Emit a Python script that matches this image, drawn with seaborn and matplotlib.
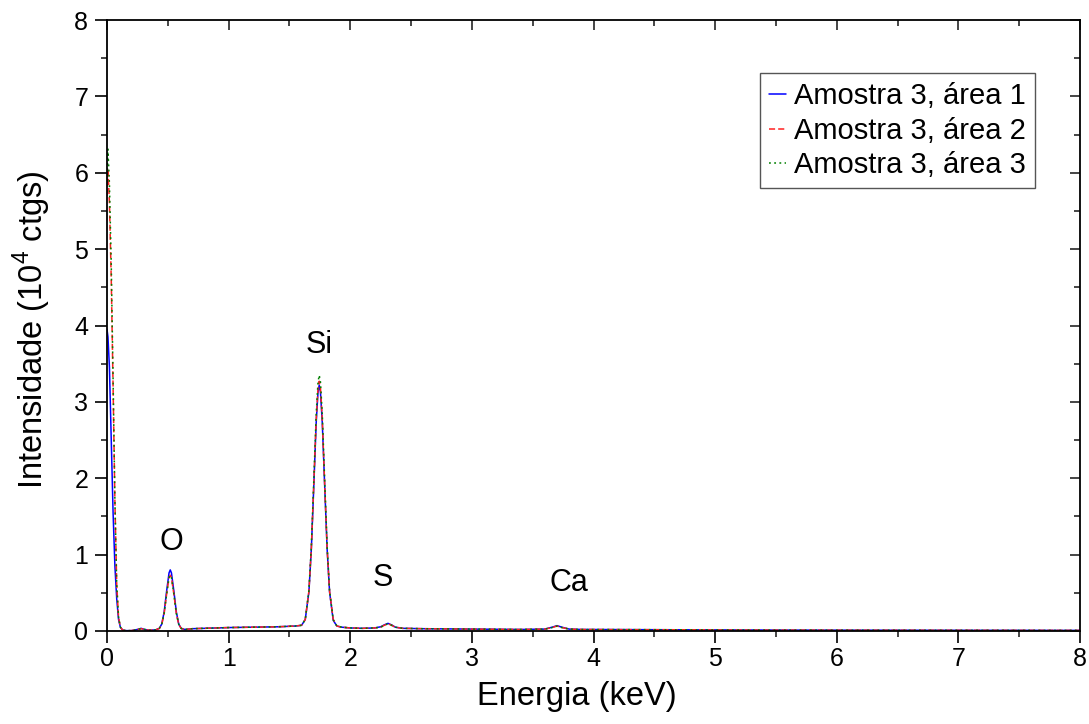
import matplotlib
matplotlib.use("Agg")
import matplotlib.pyplot as plt
import seaborn as sns
import pandas as pd
from matplotlib.ticker import MultipleLocator

# EDS spectra: energy (keV) and intensity (10^4 counts) for three areas
energy = [
    0.000, 0.008, 0.020, 0.035, 0.050, 0.065, 0.080, 0.095, 0.110, 0.130, 0.160,
    0.200, 0.250, 0.280, 0.310, 0.350, 0.400,
    0.430, 0.450, 0.470, 0.490, 0.510, 0.520, 0.530, 0.550, 0.570, 0.590, 0.610, 0.640,
    0.700, 0.800, 1.000, 1.200, 1.400,
    1.550, 1.600, 1.630, 1.660, 1.680, 1.700, 1.720, 1.735, 1.745, 1.755, 1.770,
    1.790, 1.810, 1.830, 1.860, 1.890, 1.930,
    2.000, 2.100, 2.200, 2.250, 2.280, 2.310, 2.340, 2.370, 2.430, 2.600,
    3.000, 3.400, 3.600, 3.660, 3.700, 3.740, 3.800, 3.900,
    4.500, 5.500, 6.500, 8.000,
]

area1 = [
    3.95, 3.85, 3.45, 2.50, 1.55, 0.85, 0.42, 0.15, 0.05, 0.01, 0.005,
    0.005, 0.02, 0.035, 0.02, 0.01, 0.015,
    0.035, 0.09, 0.25, 0.52, 0.76, 0.80, 0.76, 0.52, 0.25, 0.09, 0.035, 0.02,
    0.03, 0.035, 0.045, 0.05, 0.055,
    0.065, 0.075, 0.15, 0.51, 1.07, 1.89, 2.73, 3.13, 3.22, 3.13, 2.73,
    1.89, 1.07, 0.51, 0.14, 0.065, 0.05,
    0.04, 0.035, 0.04, 0.055, 0.08, 0.10, 0.08, 0.05, 0.035, 0.03,
    0.025, 0.02, 0.025, 0.05, 0.07, 0.05, 0.025, 0.02,
    0.017, 0.012, 0.01, 0.008,
]

area2 = [
    5.70, 6.05, 5.60, 4.60, 3.20, 1.70, 0.60, 0.18, 0.05, 0.01, 0.005,
    0.005, 0.02, 0.03, 0.02, 0.01, 0.015,
    0.033, 0.085, 0.23, 0.48, 0.70, 0.73, 0.70, 0.48, 0.23, 0.085, 0.033, 0.02,
    0.03, 0.035, 0.045, 0.05, 0.055,
    0.065, 0.075, 0.15, 0.52, 1.08, 1.91, 2.77, 3.18, 3.27, 3.18, 2.77,
    1.91, 1.08, 0.52, 0.15, 0.065, 0.05,
    0.04, 0.035, 0.04, 0.05, 0.075, 0.095, 0.075, 0.05, 0.035, 0.03,
    0.025, 0.02, 0.025, 0.045, 0.065, 0.045, 0.025, 0.02,
    0.017, 0.012, 0.01, 0.008,
]

area3 = [
    5.90, 6.31, 5.85, 4.80, 3.30, 1.70, 0.60, 0.18, 0.05, 0.01, 0.005,
    0.005, 0.02, 0.03, 0.02, 0.01, 0.015,
    0.033, 0.085, 0.23, 0.48, 0.70, 0.73, 0.70, 0.48, 0.23, 0.085, 0.033, 0.02,
    0.03, 0.035, 0.045, 0.05, 0.055,
    0.065, 0.075, 0.15, 0.53, 1.11, 1.96, 2.84, 3.26, 3.35, 3.26, 2.84,
    1.96, 1.11, 0.53, 0.15, 0.065, 0.05,
    0.04, 0.035, 0.04, 0.05, 0.075, 0.095, 0.075, 0.05, 0.035, 0.03,
    0.025, 0.02, 0.025, 0.045, 0.065, 0.045, 0.025, 0.02,
    0.017, 0.012, 0.01, 0.008,
]

series_labels = ["Amostra 3, área 1", "Amostra 3, área 2", "Amostra 3, área 3"]
series_colors = ["#0000ff", "#ff2020", "#008000"]
series_dashes = ["-", (0, (4, 2)), (0, (1.2, 2.2))]

# Element annotations: label, energy, height
peak_names = ["O", "Si", "S", "Ca"]
peak_x = [0.53, 1.74, 2.27, 3.80]
peak_y = [1.16, 3.74, 0.69, 0.63]

sns.set_theme(style="white")
plt.rcParams["font.family"] = ["Liberation Sans", "DejaVu Sans"]
plt.rcParams["mathtext.fontset"] = "custom"
plt.rcParams["mathtext.rm"] = "Liberation Sans"
plt.rcParams["text.color"] = "black"
plt.rcParams["axes.labelcolor"] = "black"

fig = plt.figure(figsize=(10.89, 7.24), dpi=100)
ax = fig.add_axes([107 / 1089, 1 - 631 / 724, 973 / 1089, 611 / 724])

for vals, lab, col, ls in zip([area1, area2, area3], series_labels,
                              series_colors, series_dashes):
    df = pd.DataFrame({"Energia": energy, "Intensidade": vals})
    sns.lineplot(data=df, x="Energia", y="Intensidade", ax=ax, color=col,
                 linestyle=ls, linewidth=1.1, label=lab,
                 estimator=None, sort=True)

ax.set_xlim(0, 8)
ax.set_ylim(0, 8)
ax.xaxis.set_major_locator(MultipleLocator(1))
ax.xaxis.set_minor_locator(MultipleLocator(0.5))
ax.yaxis.set_major_locator(MultipleLocator(1))
ax.yaxis.set_minor_locator(MultipleLocator(0.5))

for sp in ax.spines.values():
    sp.set_color("black")
    sp.set_linewidth(1.3)

ax.tick_params(which="major", direction="out", length=8.5, width=1.2,
               labelsize=18, colors="black", pad=3)
ax.tick_params(which="minor", direction="out", length=4.5, width=1.2)
ax.tick_params(axis="y", which="major", pad=5)
ax.tick_params(bottom=True, left=True, which="both")

# Mirrored inward ticks on the top and right edges
top = ax.secondary_xaxis("top")
top.xaxis.set_major_locator(MultipleLocator(1))
top.xaxis.set_minor_locator(MultipleLocator(0.5))
top.tick_params(which="major", direction="in", length=7, width=1.2, labeltop=False)
top.tick_params(which="minor", direction="in", length=4, width=1.2)
top.spines["top"].set_visible(False)

right = ax.secondary_yaxis("right")
right.yaxis.set_major_locator(MultipleLocator(1))
right.yaxis.set_minor_locator(MultipleLocator(0.5))
right.tick_params(which="major", direction="in", length=7, width=1.2, labelright=False)
right.tick_params(which="minor", direction="in", length=4, width=1.2)
right.spines["right"].set_visible(False)

ax.set_xlabel("Energia (keV)", fontsize=23.5)
ax.set_ylabel("Intensidade (10$^4$ ctgs)", fontsize=23.5)
ax.xaxis.set_label_coords((577 - 107) / 973, -(697 - 631) / 611)
ax.yaxis.set_label_coords(-(107 - 32) / 973, (631 - 330) / 611)
ax.xaxis.label.set_va("center")
ax.yaxis.label.set_va("center")

for name, x, y in zip(peak_names, peak_x, peak_y):
    ax.text(x, y, name, fontsize=22, ha="center", va="center", color="black")

leg = ax.legend(loc="upper right", bbox_to_anchor=(0.9537, 0.9133),
                borderaxespad=0, fontsize=21, frameon=True, fancybox=False,
                framealpha=1, edgecolor="#555555", handlelength=0.6,
                handletextpad=0.25, labelspacing=0.22, borderpad=0.32)
leg.get_frame().set_linewidth(1.0)

fig.savefig("out.png", dpi=100)
